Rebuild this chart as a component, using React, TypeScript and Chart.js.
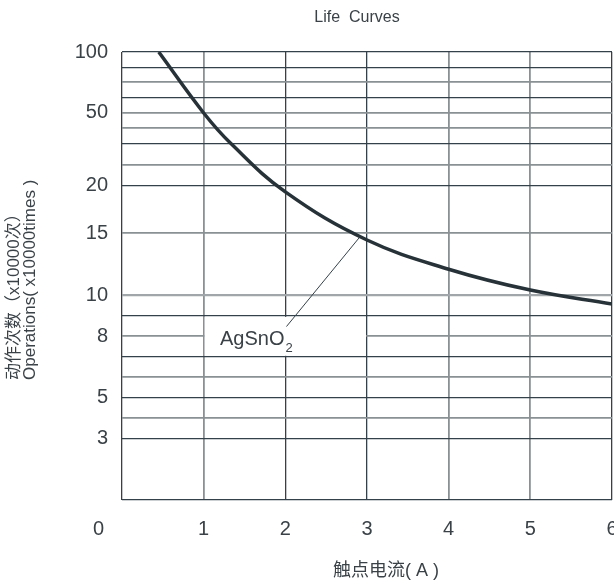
import React, { useEffect, useRef } from 'react';
import { Chart, registerables, LinearScale } from 'chart.js';

// ---- texts ----
const chartTitle = 'Life  Curves';
const xTitle = '触点电流( A )';
const yTitleCn = '动作次数（x10000次）';
const yTitleEn = 'Operations( x10000times )';
const seriesName = 'AgSnO';
const seriesSub = '2';

// ---- axes ----
const xTickValues = [0, 1, 2, 3, 4, 5, 6];
const xGridShade = ['d', 'g', 'd', 'd', 'g', 'g', 'd'];
// grid lines of the (non-uniform) operations axis and where each sits on the axis (in grid units)
const yGridValues = [0, 3, 4, 5, 6, 7, 8, 9, 10, 15, 20, 30, 40, 45, 50, 62.5, 75, 87.5, 100];
const yGridUnits = [0, 3, 4, 5, 6, 7, 8, 9, 10, 13.05, 15.39, 16.39, 17.4, 18.17, 18.92, 19.65, 20.42, 21.15, 21.9];
const yGridShade = ['d', 'd', 'g', 'd', 'g', 'd', 'g', 'd', 'l', 'g', 'd', 'g', 'd', 'g', 'g', 'd', 'g', 'd', 'd'];
const yLabelValues = [3, 5, 8, 10, 15, 20, 50, 100];

// ---- series (AgSnO2) ----
const currentA = [0.45, 1.0, 1.34, 2.0, 3.0, 4.0, 5.0, 6.0];
const operations = [100, 50, 40, 19.3, 14.44, 12.1, 10.43, 9.58];

// annotation (data units)
const labelBox = { x0: 1, x1: 3, y0: 7, y1: 9 };
const labelAnchor = { x: 1.2, y: 7.6 };
const leaderCurveX = 2.92;

const FONT = "'Liberation Sans', Arial, 'Noto Sans CJK SC', sans-serif";
const TEXT = '#3a4248';
const DARK = '#34414a';
const GRAY = '#8a9195';
const LIGHT = '#a0a6a9';

function interp(v: number, xs: number[], ys: number[]) {
  const n = xs.length;
  if (v <= xs[0]) {
    return ys[0] + ((v - xs[0]) * (ys[1] - ys[0])) / (xs[1] - xs[0]);
  }
  for (let i = 0; i < n - 1; i++) {
    if (v <= xs[i + 1]) {
      const t = (v - xs[i]) / (xs[i + 1] - xs[i]);
      return ys[i] + t * (ys[i + 1] - ys[i]);
    }
  }
  return ys[n - 1] + ((v - xs[n - 1]) * (ys[n - 1] - ys[n - 2])) / (xs[n - 1] - xs[n - 2]);
}
const UNIT_MAX = yGridUnits[yGridUnits.length - 1];

class KnotScale extends LinearScale {
  static id = 'knot';
  static defaults = { ticks: { callback: (v: any) => String(v) } };
  buildTicks() {
    return yGridValues.map((v) => ({ value: v }));
  }
  getPixelForValue(value: number) {
    const u = interp(value, yGridValues, yGridUnits);
    return this.getPixelForDecimal(u / UNIT_MAX);
  }
  getValueForPixel(pixel: number) {
    const u = this.getDecimalForPixel(pixel) * UNIT_MAX;
    return interp(u, yGridUnits, yGridValues);
  }
}

Chart.register(...registerables, KnotScale as any);

function shadeColor(s: string) {
  return s === 'd' ? DARK : s === 'g' ? GRAY : LIGHT;
}
function shadeWidth(s: string) {
  return s === 'd' ? 1.3 : s === 'g' ? 1.8 : 2.2;
}

const overlay = {
  id: 'overlay',
  beforeDatasetsDraw(chart: any) {
    const ctx = chart.ctx;
    const xs = chart.scales.x;
    const ys = chart.scales.y;
    // white label box hiding grid
    const bx0 = xs.getPixelForValue(labelBox.x0) + 1;
    const bx1 = xs.getPixelForValue(labelBox.x1) - 1;
    const by0 = ys.getPixelForValue(labelBox.y1) + 1;
    const by1 = ys.getPixelForValue(labelBox.y0) - 1;
    ctx.save();
    ctx.fillStyle = '#ffffff';
    ctx.fillRect(bx0, by0, bx1 - bx0, by1 - by0);
    // label
    const lx = xs.getPixelForValue(labelAnchor.x);
    const ly = ys.getPixelForValue(labelAnchor.y);
    ctx.fillStyle = TEXT;
    ctx.textBaseline = 'alphabetic';
    ctx.textAlign = 'left';
    ctx.font = `20px ${FONT}`;
    ctx.fillText(seriesName, lx, ly);
    const w = ctx.measureText(seriesName).width;
    ctx.font = `13px ${FONT}`;
    ctx.fillText(seriesSub, lx + w + 1, ly + 7);
    // leader line to the curve
    const meta = chart.getDatasetMeta(0);
    const pts = meta.data;
    const tx = xs.getPixelForValue(leaderCurveX);
    let ty = pts[0].y;
    for (let i = 0; i < pts.length - 1; i++) {
      if (tx >= pts[i].x && tx <= pts[i + 1].x) {
        const t = (tx - pts[i].x) / (pts[i + 1].x - pts[i].x);
        ty = pts[i].y + t * (pts[i + 1].y - pts[i].y);
      }
    }
    ctx.strokeStyle = DARK;
    ctx.lineWidth = 1;
    ctx.beginPath();
    ctx.moveTo(lx + w + 2, ly - 18);
    ctx.lineTo(tx, ty);
    ctx.stroke();
    ctx.restore();
  },
  afterDraw(chart: any) {
    const ctx = chart.ctx;
    const xs = chart.scales.x;
    ctx.save();
    ctx.fillStyle = TEXT;
    // title
    ctx.font = `16px ${FONT}`;
    ctx.textAlign = 'center';
    ctx.textBaseline = 'alphabetic';
    ctx.fillText(chartTitle, 357, 21.5);
    // origin label
    ctx.font = `20px ${FONT}`;
    ctx.textBaseline = 'middle';
    ctx.fillText(String(xTickValues[0]), xs.getPixelForValue(xTickValues[0]) - 23.5, 529);
    // x title
    ctx.font = `18px ${FONT}`;
    ctx.fillText(xTitle, 386, 571.5);
    // y titles (rotated)
    ctx.textAlign = 'left';
    ctx.textBaseline = 'alphabetic';
    ctx.font = `17px ${FONT}`;
    ctx.save();
    ctx.translate(18.5, 380);
    ctx.rotate(-Math.PI / 2);
    ctx.fillText(yTitleCn, 0, 0);
    ctx.restore();
    ctx.save();
    ctx.translate(35, 380);
    ctx.rotate(-Math.PI / 2);
    ctx.fillText(yTitleEn, 0, 0);
    ctx.restore();
    ctx.restore();
  },
};

export default function App() {
  const ref = useRef<HTMLCanvasElement | null>(null);
  useEffect(() => {
    if (!ref.current) return;
    const chart = new Chart(ref.current, {
      type: 'line',
      data: {
        datasets: [
          {
            label: seriesName + seriesSub,
            data: currentA.map((x, i) => ({ x, y: operations[i] })),
            borderColor: '#263238',
            borderWidth: 3.5,
            pointRadius: 0,
            fill: false,
            tension: 0.4,
          },
        ],
      },
      options: {
        animation: false,
        responsive: true,
        maintainAspectRatio: false,
        layout: { padding: { left: 0, top: 52, right: 28, bottom: 0 } },
        plugins: { legend: { display: false }, title: { display: false }, tooltip: { enabled: false } },
        scales: {
          x: {
            type: 'linear',
            min: 0,
            max: 6,
            afterFit: (s: any) => {
              s.height = 82;
            },
            afterBuildTicks: (s: any) => {
              s.ticks = xTickValues.map((v) => ({ value: v }));
            },
            border: { display: false },
            grid: {
              drawTicks: false,
              color: (c: any) => shadeColor(xGridShade[xTickValues.indexOf(c.tick?.value)] || 'd'),
              lineWidth: (c: any) => shadeWidth(xGridShade[xTickValues.indexOf(c.tick?.value)] || 'd'),
            },
            ticks: {
              autoSkip: false,
              maxRotation: 0,
              padding: 17,
              color: TEXT,
              font: { family: FONT, size: 20 },
              callback: (v: any) => (v === xTickValues[0] ? '' : String(v)),
            },
          },
          y: {
            type: 'knot' as any,
            min: 0,
            max: 100,
            afterFit: (s: any) => {
              s.width = 122;
            },
            border: { display: false },
            grid: {
              drawTicks: false,
              color: (c: any) => shadeColor(yGridShade[yGridValues.indexOf(c.tick?.value)] || 'd'),
              lineWidth: (c: any) => shadeWidth(yGridShade[yGridValues.indexOf(c.tick?.value)] || 'd'),
            },
            ticks: {
              autoSkip: false,
              padding: 14,
              color: TEXT,
              font: { family: FONT, size: 20 },
              callback: (v: any) => (yLabelValues.includes(v) ? String(v) : ''),
            },
          },
        },
      },
      plugins: [overlay],
    } as any);
    return () => chart.destroy();
  }, []);
  return (
    <div style={{ position: 'absolute', left: 0, top: 0, width: 614, height: 582, overflow: 'hidden', background: '#fff' }}>
      <div style={{ position: 'absolute', left: 0, top: 0, width: 640, height: 582 }}>
        <canvas ref={ref} />
      </div>
    </div>
  );
}
